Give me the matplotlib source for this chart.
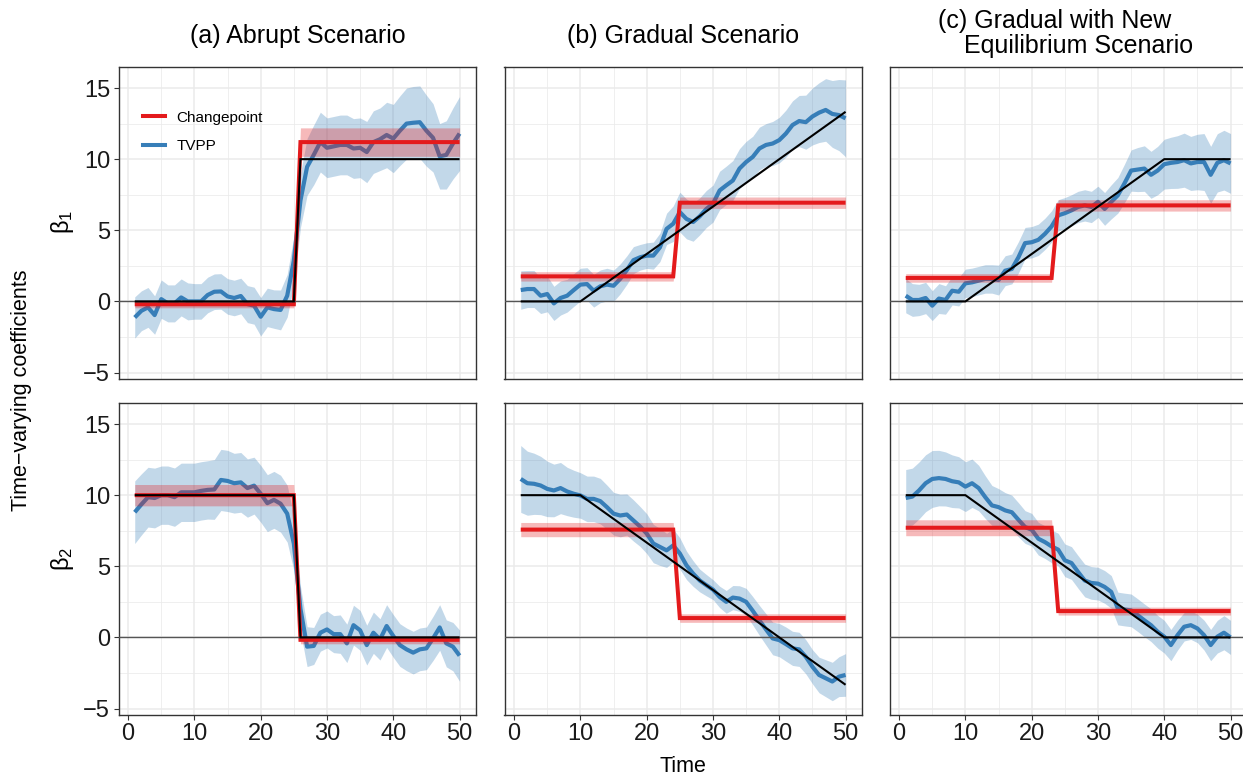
import numpy as np
import matplotlib
matplotlib.use("Agg")
import matplotlib.pyplot as plt
from matplotlib.lines import Line2D
from matplotlib.ticker import MultipleLocator

plt.rcParams['font.family'] = ['Liberation Sans', 'DejaVu Sans']
plt.rcParams['mathtext.fontset'] = 'custom'
plt.rcParams['mathtext.rm'] = 'Liberation Sans'
plt.rcParams['mathtext.it'] = 'Liberation Sans:italic'

# ---------------------------------------------------------------- data
time = np.arange(1, 51)

scenario_titles = ["(a) Abrupt Scenario", "(b) Gradual Scenario",
                   "(c) Gradual with New", "Equilibrium Scenario"]
coef_labels = [r"$\mathrm{\beta}_1$", r"$\mathrm{\beta}_2$"]
method_labels = ["Changepoint", "TVPP"]
x_ticks = [0, 10, 20, 30, 40, 50]
y_ticks = [-5, 0, 5, 10, 15]

# TVPP posterior means
tvpp_a1 = [-1.13, -0.66, -0.42, -0.96, 0.16, -0.14, -0.14, 0.28, 0.0, 0.0,
           0.0, 0.45, 0.68, 0.7, 0.35, 0.24, 0.38, -0.19, -0.3, -1.08,
           -0.42, -0.54, -0.6, 0.4, 2.87, 7.1, 9.46, 10.3, 11.2, 10.8,
           10.9, 11.0, 11.0, 10.75, 10.8, 10.5, 11.2, 11.4, 11.7, 11.45,
           12.0, 12.5, 12.56, 12.6, 12.0, 11.5, 10.2, 10.3, 11.1, 11.8]
tvpp_b1 = [0.8, 0.87, 0.87, 0.4, 0.52, -0.14, 0.24, 0.4, 0.8, 1.18,
           1.22, 0.75, 1.06, 1.18, 1.1, 1.58, 2.2, 2.9, 3.1, 3.22,
           3.22, 3.8, 5.1, 5.46, 6.28, 5.8, 5.58, 5.98, 6.5, 6.87,
           7.8, 8.16, 8.5, 9.34, 9.8, 10.16, 10.75, 11.0, 11.1, 11.34,
           11.8, 12.4, 12.68, 12.6, 13.0, 13.27, 13.46, 13.18, 13.1, 12.87]
tvpp_c1 = [0.4, 0.1, 0.1, 0.24, -0.3, 0.2, 0.1, 0.75, 0.68, 1.27,
           1.34, 1.46, 1.58, 1.58, 1.5, 2.16, 2.28, 3.1, 4.1, 4.16,
           4.33, 4.75, 5.27, 6.05, 6.2, 6.4, 6.64, 6.75, 6.64, 7.0,
           6.5, 7.0, 7.46, 8.3, 9.2, 9.27, 9.34, 8.9, 9.2, 9.65,
           9.74, 9.8, 9.93, 9.7, 9.8, 9.8, 8.9, 9.74, 9.93, 9.7]
tvpp_a2 = [8.8, 9.35, 9.86, 9.8, 10.0, 10.0, 9.86, 10.2, 10.2, 10.2,
           10.3, 10.37, 10.4, 11.07, 11.0, 10.84, 10.9, 10.5, 10.67, 10.1,
           9.44, 9.67, 9.4, 8.7, 6.6, 2.0, -0.65, -0.6, 0.33, 0.56,
           0.23, 0.23, -0.42, 0.86, 0.5, -0.54, 0.33, -0.14, 0.8, 0.1,
           -0.54, -0.84, -1.07, -0.84, -0.77, -0.07, 0.7, -0.42, -0.65, -1.28]
tvpp_b2 = [11.14, 10.84, 10.8, 10.68, 10.44, 10.33, 10.5, 10.26, 10.1, 9.98,
           9.74, 9.74, 9.58, 9.16, 8.7, 8.57, 8.64, 8.22, 7.8, 7.3,
           6.6, 6.36, 6.12, 6.47, 5.9, 5.07, 4.49, 4.0, 3.67, 3.36,
           2.85, 2.5, 2.8, 2.73, 2.5, 1.87, 1.2, 0.56, -0.07, -0.19,
           -0.47, -0.77, -0.84, -1.36, -2.06, -2.64, -2.87, -3.1, -2.76, -2.64]
tvpp_c2 = [9.8, 9.9, 10.33, 10.84, 11.14, 11.2, 11.14, 10.98, 10.9, 10.6,
           10.84, 10.5, 9.86, 9.28, 9.16, 8.93, 8.8, 8.27, 7.76, 7.57,
           6.94, 6.7, 6.4, 6.17, 5.42, 5.23, 4.6, 4.0, 3.83, 3.78,
           3.55, 3.2, 2.03, 1.96, 1.9, 1.56, 1.2, 0.86, 0.4, 0.05,
           -0.54, 0.16, 0.75, 0.86, 0.63, 0.16, -0.54, 0.05, 0.33, 0.0]

# TVPP credible band half-widths
band_a1 = [1.45, 1.4, 1.4, 1.35, 1.35, 1.3, 1.3, 1.3, 1.3, 1.25,
           1.25, 1.25, 1.25, 1.25, 1.25, 1.25, 1.25, 1.3, 1.3, 1.35,
           1.35, 1.35, 1.4, 1.5, 1.7, 1.9, 2.0, 2.1, 2.1, 2.1,
           2.1, 2.1, 2.1, 2.1, 2.1, 2.15, 2.2, 2.2, 2.3, 2.4,
           2.45, 2.5, 2.55, 2.55, 2.5, 2.4, 2.3, 2.4, 2.5, 2.6]
band_b1 = [1.35, 1.3, 1.3, 1.25, 1.25, 1.2, 1.2, 1.15, 1.15, 1.15,
           1.15, 1.15, 1.15, 1.15, 1.1, 1.05, 1.0, 0.95, 0.9, 0.9,
           0.95, 1.0, 1.1, 1.25, 1.4, 1.4, 1.35, 1.3, 1.3, 1.3,
           1.35, 1.35, 1.4, 1.4, 1.45, 1.45, 1.5, 1.5, 1.55, 1.6,
           1.65, 1.7, 1.8, 1.9, 2.0, 2.1, 2.2, 2.35, 2.5, 2.7]
band_c1 = [1.2, 1.15, 1.1, 1.1, 1.05, 1.05, 1.0, 1.0, 1.0, 1.0,
           1.0, 1.0, 1.0, 1.0, 1.05, 1.05, 1.05, 1.1, 1.1, 1.1,
           1.1, 1.1, 1.1, 1.1, 1.1, 1.1, 1.1, 1.1, 1.1, 1.1,
           1.15, 1.2, 1.25, 1.35, 1.45, 1.55, 1.6, 1.65, 1.7, 1.75,
           1.8, 1.85, 1.9, 1.9, 1.95, 2.0, 2.0, 2.05, 2.1, 2.1]
band_a2 = [2.2, 2.15, 2.1, 2.1, 2.05, 2.05, 2.05, 2.05, 2.05, 2.05,
           2.05, 2.05, 2.1, 2.15, 2.15, 2.1, 2.1, 2.05, 2.0, 2.0,
           2.0, 2.0, 2.0, 2.0, 1.9, 1.6, 1.4, 1.3, 1.3, 1.3,
           1.3, 1.35, 1.35, 1.4, 1.4, 1.4, 1.45, 1.45, 1.5, 1.5,
           1.5, 1.5, 1.5, 1.5, 1.5, 1.55, 1.6, 1.65, 1.7, 1.8]
band_b2 = [2.35, 2.25, 2.15, 2.05, 1.95, 1.85, 1.8, 1.7, 1.65, 1.6,
           1.6, 1.6, 1.6, 1.55, 1.5, 1.5, 1.45, 1.45, 1.4, 1.4,
           1.35, 1.3, 1.2, 1.15, 1.1, 1.0, 0.9, 0.8, 0.75, 0.7,
           0.75, 0.8, 0.85, 0.9, 0.95, 1.0, 1.05, 1.1, 1.15, 1.17,
           1.2, 1.2, 1.2, 1.2, 1.2, 1.25, 1.3, 1.35, 1.4, 1.5]
band_c2 = [2.0, 2.0, 2.0, 2.0, 2.0, 1.95, 1.9, 1.85, 1.8, 1.75,
           1.7, 1.6, 1.5, 1.4, 1.3, 1.25, 1.2, 1.2, 1.15, 1.15,
           1.15, 1.15, 1.15, 1.15, 1.15, 1.15, 1.15, 1.15, 1.15, 1.15,
           1.15, 1.15, 1.15, 1.15, 1.15, 1.15, 1.15, 1.15, 1.15, 1.15,
           1.1, 1.05, 1.0, 1.0, 1.0, 1.05, 1.1, 1.15, 1.2, 1.2]

# Changepoint fits: [level before, level after], last time before the break,
# and band half-widths [before, after]
cp_levels_a1, cp_break_a1, cp_band_a1 = [-0.2, 11.2], 25, [0.25, 1.0]
cp_levels_b1, cp_break_b1, cp_band_b1 = [1.76, 6.94], 24, [0.33, 0.4]
cp_levels_c1, cp_break_c1, cp_band_c1 = [1.65, 6.75], 23, [0.3, 0.4]
cp_levels_a2, cp_break_a2, cp_band_a2 = [10.0, -0.17], 25, [0.75, 0.28]
cp_levels_b2, cp_break_b2, cp_band_b2 = [7.58, 1.36], 24, [0.5, 0.3]
cp_levels_c2, cp_break_c2, cp_band_c2 = [7.71, 1.85], 23, [0.56, 0.28]

# True coefficient paths (knots of a piecewise-linear curve)
true_t_a1, true_v_a1 = [1, 25, 26, 50], [0, 0, 10, 10]
true_t_b1, true_v_b1 = [1, 10, 50], [0, 0, 13.33]
true_t_c1, true_v_c1 = [1, 10, 40, 50], [0, 0, 10, 10]
true_t_a2, true_v_a2 = [1, 25, 26, 50], [10, 10, 0, 0]
true_t_b2, true_v_b2 = [1, 10, 50], [10, 10, -3.33]
true_t_c2, true_v_c2 = [1, 10, 40, 50], [10, 10, 0, 0]

panels = [
    [(tvpp_a1, band_a1, cp_levels_a1, cp_break_a1, cp_band_a1, true_t_a1, true_v_a1),
     (tvpp_b1, band_b1, cp_levels_b1, cp_break_b1, cp_band_b1, true_t_b1, true_v_b1),
     (tvpp_c1, band_c1, cp_levels_c1, cp_break_c1, cp_band_c1, true_t_c1, true_v_c1)],
    [(tvpp_a2, band_a2, cp_levels_a2, cp_break_a2, cp_band_a2, true_t_a2, true_v_a2),
     (tvpp_b2, band_b2, cp_levels_b2, cp_break_b2, cp_band_b2, true_t_b2, true_v_b2),
     (tvpp_c2, band_c2, cp_levels_c2, cp_break_c2, cp_band_c2, true_t_c2, true_v_c2)],
]

# ---------------------------------------------------------------- style
RED = "#E41A1C"
BLUE = "#377EB8"
GRID = "#EBEBEB"
BORDER = "#333333"

W, H = 1243, 777
fig = plt.figure(figsize=(W / 100, H / 100), dpi=100)

col_left = [118.5, 504.5, 889.5]
col_width = 357.3
row_top = [67.0, 403.0]
row_height = 311.5

XLIM = (-1.45, 52.45)
YLIM = (-5.42, 16.48)


def px_rect(left, top, width, height):
    return [left / W, 1 - (top + height) / H, width / W, height / H]


for r in range(2):
    for c in range(3):
        tvpp, band, cp_lv, cp_brk, cp_bd, tt, tv = panels[r][c]
        ax = fig.add_axes(px_rect(col_left[c], row_top[r], col_width, row_height))
        ax.set_xlim(*XLIM)
        ax.set_ylim(*YLIM)
        ax.set_axisbelow(True)

        ax.xaxis.set_major_locator(MultipleLocator(10))
        ax.xaxis.set_minor_locator(MultipleLocator(5))
        ax.yaxis.set_major_locator(MultipleLocator(5))
        ax.yaxis.set_minor_locator(MultipleLocator(2.5))
        ax.grid(which="major", color=GRID, lw=1.1)
        ax.grid(which="minor", color=GRID, lw=0.55)

        tvpp = np.asarray(tvpp)
        band = np.asarray(band)
        ax.fill_between(time, tvpp - band, tvpp + band, color=BLUE,
                        alpha=0.3, lw=0, zorder=2)
        ax.plot(time, tvpp, color=BLUE, lw=3.0, zorder=3,
                solid_joinstyle="round", solid_capstyle="butt")

        before = time <= cp_brk
        cp = np.where(before, cp_lv[0], cp_lv[1])
        cp_hw = np.where(before, cp_bd[0], cp_bd[1])
        ax.fill_between(time, cp - cp_hw, cp + cp_hw, color=RED,
                        alpha=0.3, lw=0, zorder=4)
        ax.plot(time, cp, color=RED, lw=2.9, zorder=5,
                solid_joinstyle="miter", solid_capstyle="butt")

        ax.axhline(0, color="#555555", lw=1.0, zorder=6)
        ax.plot(tt, tv, color="black", lw=1.5, zorder=7,
                solid_joinstyle="miter", solid_capstyle="butt")

        for s in ax.spines.values():
            s.set_color(BORDER)
            s.set_linewidth(1.0)
        if c == 2:
            # the last column runs off the right edge of the canvas
            ax.spines["right"].set_visible(False)

        ax.tick_params(which="minor", length=0)
        ax.tick_params(which="major", length=3.6, width=0.8, color=BORDER,
                       labelsize=17, labelcolor="#1A1A1A", pad=2.5)
        if c == 0:
            ax.set_yticks(y_ticks)
            ax.set_yticklabels(["\u22125" if v < 0 else str(v) for v in y_ticks])
        else:
            ax.tick_params(axis="y", which="both", left=False, labelleft=False)
        if r == 1:
            ax.set_xticks(x_ticks)
            ax.set_xticklabels([str(v) for v in x_ticks])
        else:
            ax.tick_params(axis="x", which="both", bottom=False, labelbottom=False)

        if r == 0 and c == 0:
            handles = [Line2D([], [], color=RED, lw=2.9),
                       Line2D([], [], color=BLUE, lw=2.9)]
            ax.legend(handles, method_labels, loc="upper left",
                      bbox_to_anchor=(0.068, 0.86), frameon=False,
                      fontsize=11, handlelength=1.45, handletextpad=0.75,
                      labelspacing=0.95, borderpad=0, borderaxespad=0)


def fig_text(x, y, s, **kw):
    fig.text(x / W, 1 - y / H, s, **kw)


# column titles
fig_text(298, 36, scenario_titles[0], fontsize=18, ha="center", va="center")
fig_text(683, 36, scenario_titles[1], fontsize=18, ha="center", va="center")
fig_text(1055, 21, scenario_titles[2], fontsize=18, ha="center", va="center")
fig_text(1079, 46, scenario_titles[3], fontsize=18, ha="center", va="center")

# row labels
fig_text(62, 222, coef_labels[0], fontsize=17, ha="center", va="center", rotation=90)
fig_text(62, 559, coef_labels[1], fontsize=17, ha="center", va="center", rotation=90)

# axis titles
fig_text(22, 390, "Time\u2212varying coefficients", fontsize=15.5,
         ha="center", va="center", rotation=90)
fig_text(683, 766, "Time", fontsize=15.5, ha="center", va="center")

fig.savefig("out.png", dpi=100, facecolor="white")
